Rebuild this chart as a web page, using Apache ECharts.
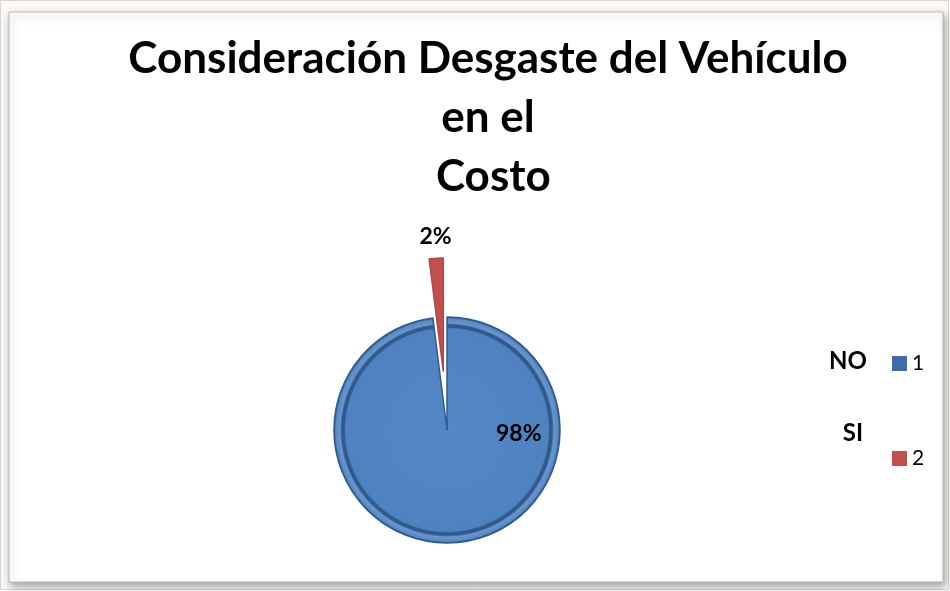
<!DOCTYPE html>
<html>
<head>
<meta charset="utf-8">
<script src="https://cdn.jsdelivr.net/npm/echarts@6/dist/echarts.min.js"></script>
<style>
  html, body { margin: 0; padding: 0; background: #fff; }
  #chart { width: 950px; height: 591px; }
</style>
</head>
<body>
<div id="chart"></div>
<script>
// datos del gráfico
var categories = ['NO', 'SI'];
var legendLabels = ['1', '2'];
var values = [98, 2];
var titleLines = ['Consideración Desgaste del Vehículo', 'en el', ' Costo'];

var chart = echarts.init(document.getElementById('chart'));

// bisel azul aproximado con degradado radial
var blueBevel = new echarts.graphic.RadialGradient(0.5, 0.5, 0.5, [
  { offset: 0, color: '#5587c6' },
  { offset: 0.89, color: '#4f82c0' },
  { offset: 0.905, color: '#2f5a8c' },
  { offset: 0.925, color: '#2f5a8c' },
  { offset: 0.94, color: '#6896cf' },
  { offset: 0.975, color: '#5b8ac4' },
  { offset: 0.99, color: '#34608f' },
  { offset: 1, color: '#2c537f' }
]);
var colors = [blueBevel, '#c0504d'];
var legendColors = ['#3d6ca6', '#c0504d'];

var pieData = values.map(function (v, i) {
  return {
    name: legendLabels[i],
    value: v,
    selected: i === 1,
    itemStyle: { color: colors[i], borderColor: i === 0 ? '#2f5a8c' : '#b04845', borderWidth: 1.5 }
  };
});

var option = {
  backgroundColor: '#fff',
  animation: false,
  title: {
    text: titleLines.join('\n'),
    left: 483,
    top: 24,
    textAlign: 'center',
    textStyle: {
      fontFamily: 'Lato',
      fontWeight: 'bold',
      fontSize: 44,
      lineHeight: 59,
      color: '#000'
    }
  },
  legend: {
    orient: 'vertical',
    left: 892,
    top: 353,
    padding: 0,
    itemGap: 74,
    itemWidth: 15,
    itemHeight: 15,
    icon: 'rect',
    data: legendLabels.map(function (n, i) {
      return { name: n, itemStyle: { color: legendColors[i], borderWidth: 0 } };
    }),
    textStyle: { fontFamily: 'Lato', fontSize: 21, color: '#000', padding: [2, 0, 0, 0] }
  },
  graphic: [
    {
      type: 'rect',
      silent: true,
      z: -10,
      shape: { x: 0.5, y: 0.5, width: 948, height: 589 },
      style: { fill: '#fbf8f5', stroke: '#d4d4d4', lineWidth: 1 }
    },
    {
      type: 'rect',
      silent: true,
      z: -9,
      shape: { x: 9, y: 12, width: 934, height: 570 },
      style: {
        fill: '#fff',
        stroke: '#b8b8b8',
        lineWidth: 1,
        shadowBlur: 8,
        shadowOffsetX: 2,
        shadowOffsetY: 4,
        shadowColor: 'rgba(0,0,0,0.35)'
      }
    },
    {
      type: 'text',
      x: 848,
      y: 361,
      style: {
        text: categories[0],
        fontFamily: 'Lato',
        fontWeight: 'bold',
        fontSize: 24,
        fill: '#000',
        align: 'center',
        verticalAlign: 'middle'
      }
    },
    {
      type: 'text',
      x: 853,
      y: 433,
      style: {
        text: categories[1],
        fontFamily: 'Lato',
        fontWeight: 'bold',
        fontSize: 24,
        fill: '#000',
        align: 'center',
        verticalAlign: 'middle'
      }
    }
  ],
  series: [
    {
      type: 'pie',
      center: [447, 430],
      radius: 113,
      startAngle: 90,
      clockwise: true,
      selectedMode: 'single',
      selectedOffset: 59,
      avoidLabelOverlap: false,
      label: {
        show: true,
        position: 'inside',
        formatter: function (p) { return p.value + '%'; },
        fontFamily: 'Lato',
        fontWeight: 'bold',
        fontSize: 23,
        color: '#000'
      },
      labelLine: { show: false },
      labelLayout: function (p) {
        // acomodar etiquetas como en el original
        if (p.dataIndex === 0) return { dx: 68, dy: -56 };
        return { dx: -4, dy: -75 };
      },
      emphasis: { disabled: true },
      data: pieData
    }
  ]
};
chart.setOption(option);
window.onresize = function () { chart.resize(); };
</script>
</body>
</html>
